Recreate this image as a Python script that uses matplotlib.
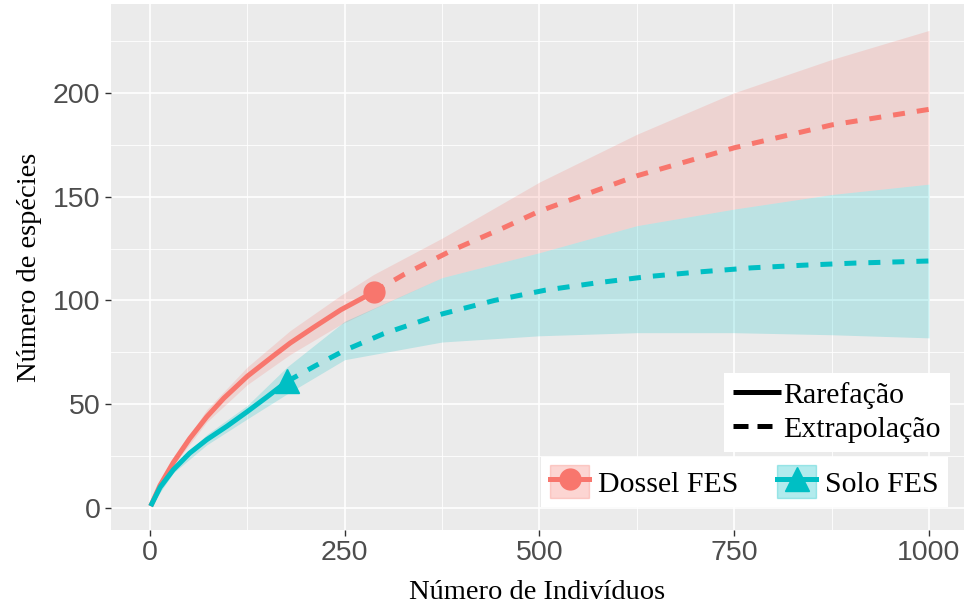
#!/usr/bin/env python3

import matplotlib
matplotlib.use("Agg")
import matplotlib.pyplot as plt
from matplotlib.lines import Line2D
from matplotlib.patches import Patch

# Dossel FES: rarefaction (observed up to n=287) and extrapolation to 1000
dossel_rare_x = [1, 13, 30, 51, 73, 95, 125, 159, 180, 210, 245, 287]
dossel_rare_y = [1, 11, 22, 33.5, 44, 53, 63.5, 73.5, 79.5, 87, 95.5, 104]
dossel_ext_x = [287, 326, 387, 454, 500, 625, 750, 875, 1000]
dossel_ext_y = [104, 112.5, 124, 135, 143, 160, 173.5, 184.5, 192]
dossel_ci_x = [1, 30, 73, 125, 180, 245, 287, 375, 500, 625, 750, 875, 1000]
dossel_ci_hi = [1, 23.5, 47.5, 68, 85.5, 102.5, 112.5, 130, 157, 180, 200, 216, 230]
dossel_ci_lo = [1, 20.5, 41.5, 59.5, 74, 88.5, 96, 111, 123, 136, 144, 151, 156]

# Solo FES
solo_rare_x = [1, 13, 30, 51, 73, 99, 125, 150, 176]
solo_rare_y = [1, 10, 18.5, 26.5, 33, 39.5, 46.5, 53.5, 61]
solo_ext_x = [176, 212, 250, 300, 375, 442, 508, 574, 639, 707, 772, 840, 905, 1000]
solo_ext_y = [61, 68.5, 76, 84, 93.5, 100, 105, 108.5, 111.5, 113.8, 115.7, 117, 118, 119]
solo_ci_x = [1, 30, 73, 125, 176, 250, 375, 500, 625, 750, 875, 1000]
solo_ci_hi = [1, 20, 35.5, 49.5, 68, 90, 111, 123, 136, 144, 151, 156]
solo_ci_lo = [1, 17, 30.5, 43, 55, 71.5, 80, 83, 84.5, 84.5, 83.5, 82]

x_ticks = [0, 250, 500, 750, 1000]
y_ticks = [0, 50, 100, 150, 200]

red = "#F8766D"
teal = "#00BFC4"
serif = "Liberation Serif"
sans = "Liberation Sans"

fig = plt.figure(figsize=(9.64, 6.09), dpi=100)
ax = fig.add_axes([0.1151, 0.1297, 0.885, 0.863])
ax.set_facecolor("#EBEBEB")
for s in ax.spines.values():
    s.set_visible(False)

ax.fill_between(dossel_ci_x, dossel_ci_lo, dossel_ci_hi, color=red, alpha=0.2, lw=0, zorder=2)
ax.fill_between(solo_ci_x, solo_ci_lo, solo_ci_hi, color=teal, alpha=0.2, lw=0, zorder=2)

ax.plot(dossel_rare_x, dossel_rare_y, color=red, lw=3.6, solid_capstyle="butt", zorder=3)
ax.plot(dossel_ext_x, dossel_ext_y, color=red, lw=3.6, dashes=(2.4, 2.4), zorder=3)
ax.plot(solo_rare_x, solo_rare_y, color=teal, lw=3.6, solid_capstyle="butt", zorder=3)
ax.plot(solo_ext_x, solo_ext_y, color=teal, lw=3.6, dashes=(2.4, 2.4), zorder=3)
ax.plot(dossel_rare_x[-1], dossel_rare_y[-1], "o", color=red, ms=15, zorder=4)
ax.plot(solo_rare_x[-1], solo_rare_y[-1], "^", color=teal, ms=17, zorder=4)

ax.set_xlim(-50, 1045)
ax.set_ylim(-10.5, 242.5)
ax.set_xticks(x_ticks)
ax.set_yticks(y_ticks)
ax.set_xticks([125, 375, 625, 875], minor=True)
ax.set_yticks([25, 75, 125, 175, 225], minor=True)
ax.set_axisbelow(True)
ax.grid(which="major", color="white", lw=1.2)
ax.grid(which="minor", color="white", lw=0.6)
ax.tick_params(which="major", length=4.5, width=1, color="#333333", labelcolor="#4D4D4D",
               labelsize=20.5, pad=3)
ax.tick_params(which="minor", length=0)
for lab in ax.get_xticklabels() + ax.get_yticklabels():
    lab.set_fontfamily(sans)

ax.set_xlabel("Número de Indivíduos", fontsize=20.5, family=serif, labelpad=10)
ax.set_ylabel("Número de espécies", fontsize=20.5, family=serif, labelpad=8)

# linetype legend
lt_handles = [Line2D([], [], color="black", lw=3.6, solid_capstyle="butt"),
              Line2D([], [], color="black", lw=3.6, dashes=(3.0, 1.8))]
leg1 = ax.legend(lt_handles, ["Rarefação", "Extrapolação"], loc="lower right",
                 bbox_to_anchor=(0.9855, 0.258), bbox_transform=fig.transFigure,
                 borderaxespad=0, frameon=True, fancybox=False, framealpha=1,
                 facecolor="white", edgecolor="none", handlelength=1.6,
                 handletextpad=0.1, labelspacing=0.25, borderpad=0.3,
                 prop={"family": serif, "size": 21.5})
ax.add_artist(leg1)

# colour legend
col_handles = [
    (Patch(facecolor=red, alpha=0.3, edgecolor=red),
     Line2D([], [], color=red, lw=3.6, marker="o", ms=15)),
    (Patch(facecolor=teal, alpha=0.3, edgecolor=teal),
     Line2D([], [], color=teal, lw=3.6, marker="^", ms=17)),
]
leg2 = ax.legend(col_handles, ["Dossel FES", "Solo FES"], loc="lower right", ncol=2,
                 bbox_to_anchor=(0.983, 0.1675), bbox_transform=fig.transFigure,
                 borderaxespad=0, frameon=True, fancybox=False, framealpha=1,
                 facecolor="white", edgecolor="none", handlelength=1.3,
                 handleheight=1.3, handletextpad=0.3, columnspacing=1.3, borderpad=0.3,
                 prop={"family": serif, "size": 21.5})

fig.savefig("out.png", dpi=100)
